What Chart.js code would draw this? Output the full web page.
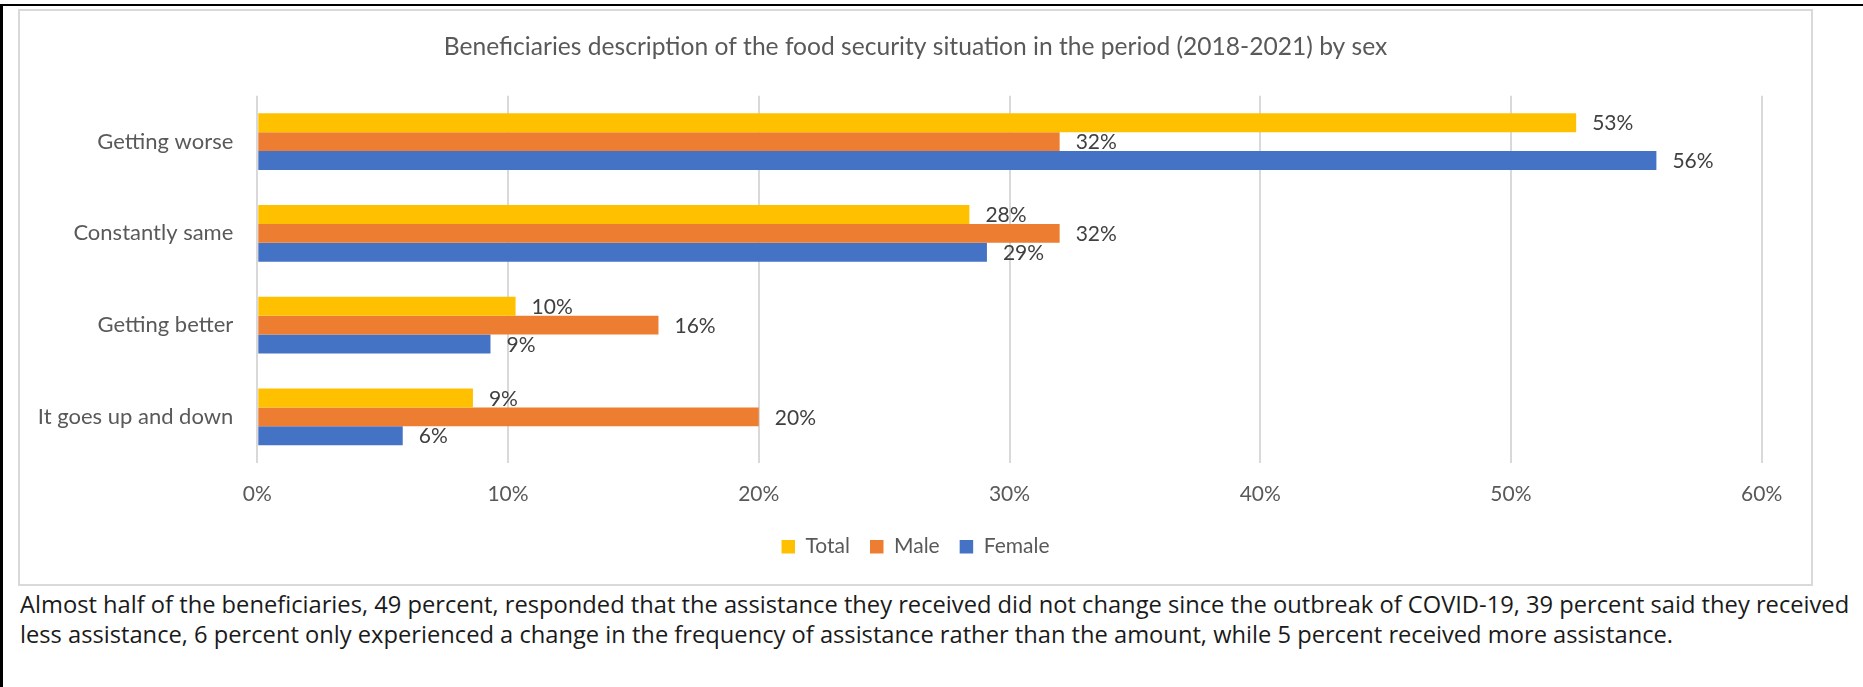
<!DOCTYPE html>
<html>
<head>
  <title>Food security situation by sex</title>
  <script src="https://cdn.jsdelivr.net/npm/chart.js"></script>
  <style>
    body { margin: 0; background: #fff; width: 1863px; height: 687px; overflow: hidden; position: relative; }
    #frame { position: absolute; left: 0; top: 4px; width: 1880px; height: 700px; border-top: 2px solid #000; border-left: 3px solid #000; }
    #box { position: absolute; left: 18px; top: 9px; width: 1795px; height: 577px; border: 2px solid #d9d9d9; box-sizing: border-box; }
    #note { position: absolute; left: 20px; top: 589px; margin: 0; font: 23.7px 'Open Sans', sans-serif; line-height: 30px; color: #1a1a1a; white-space: nowrap; }
  </style>
</head>
<body>
  <div id="frame"></div>
  <div id="box"><canvas id="situationChart"></canvas></div>
  <p id="note">Almost half of the beneficiaries, 49 percent, responded that the assistance they received did not change since the outbreak of COVID-19, 39 percent said they received<br>less assistance, 6 percent only experienced a change in the frequency of assistance rather than the amount, while 5 percent received more assistance.</p>

  <script>
    const categories = ['Getting worse', 'Constantly same', 'Getting better', 'It goes up and down'];
    const totalPct = [52.6, 28.4, 10.3, 8.6];
    const malePct = [32.0, 32.0, 16.0, 20.0];
    const femalePct = [55.8, 29.1, 9.3, 5.8];
    const seriesNames = ['Total', 'Male', 'Female'];
    const seriesColors = ['#ffc000', '#ed7d31', '#4472c4'];
    const xTicks = [0, 10, 20, 30, 40, 50, 60];

    const chartFont = 'Lato, sans-serif';

    // percent label just past the end of every bar
    const barLabels = {
      id: 'barLabels',
      afterDatasetsDraw(chart) {
        const ctx = chart.ctx;
        ctx.save();
        ctx.font = '21px ' + chartFont;
        ctx.fillStyle = '#404040';
        ctx.textAlign = 'left';
        ctx.textBaseline = 'middle';
        chart.data.datasets.forEach((ds, i) => {
          chart.getDatasetMeta(i).data.forEach((bar, j) => {
            ctx.fillText(Math.round(ds.data[j]) + '%', bar.x + 16, bar.y + 1);
          });
        });
        ctx.restore();
      }
    };

    new Chart(document.getElementById('situationChart'), {
      type: 'bar',
      data: {
        labels: categories,
        datasets: [totalPct, malePct, femalePct].map((vals, i) => ({
          label: seriesNames[i],
          data: vals,
          backgroundColor: seriesColors[i],
          borderWidth: 0,
          categoryPercentage: 0.618,
          barPercentage: 1
        }))
      },
      options: {
        indexAxis: 'y',
        responsive: true,
        maintainAspectRatio: false,
        animation: false,
        devicePixelRatio: 1,
        layout: { padding: { top: 0, left: 0, right: 0, bottom: 16.8 } },
        scales: {
          x: {
            min: 0,
            max: 60,
            afterBuildTicks: s => { s.ticks = xTicks.map(v => ({ value: v })); },
            // room on the right of the plot without moving the centred title/legend
            afterFit: s => { s.height = 53.5; s.paddingRight = 49.3; },
            grid: { color: '#d9d9d9', lineWidth: 2, drawTicks: false, tickLength: 0 },
            border: { display: false },
            ticks: {
              padding: 19,
              color: '#595959',
              font: { family: chartFont, size: 21 },
              callback: v => v + '%'
            }
          },
          y: {
            afterFit: s => { s.width = 237.3; },
            grid: { display: false, drawTicks: false, tickLength: 0 },
            border: { display: false },
            ticks: {
              padding: 24,
              color: '#595959',
              font: { family: chartFont, size: 22 }
            }
          }
        },
        plugins: {
          title: {
            display: true,
            text: 'Beneficiaries description of the food security situation in the period (2018-2021) by sex',
            color: '#595959',
            font: { family: chartFont, size: 24.6, weight: 'normal' },
            padding: { top: 21.8, bottom: 33.4 }
          },
          legend: {
            position: 'bottom',
            labels: {
              color: '#595959',
              font: { family: chartFont, size: 21 },
              boxWidth: 13.5,
              boxHeight: 13.5,
              padding: 20
            }
          },
          tooltip: { enabled: false }
        }
      },
      plugins: [barLabels]
    });
  </script>
</body>
</html>
